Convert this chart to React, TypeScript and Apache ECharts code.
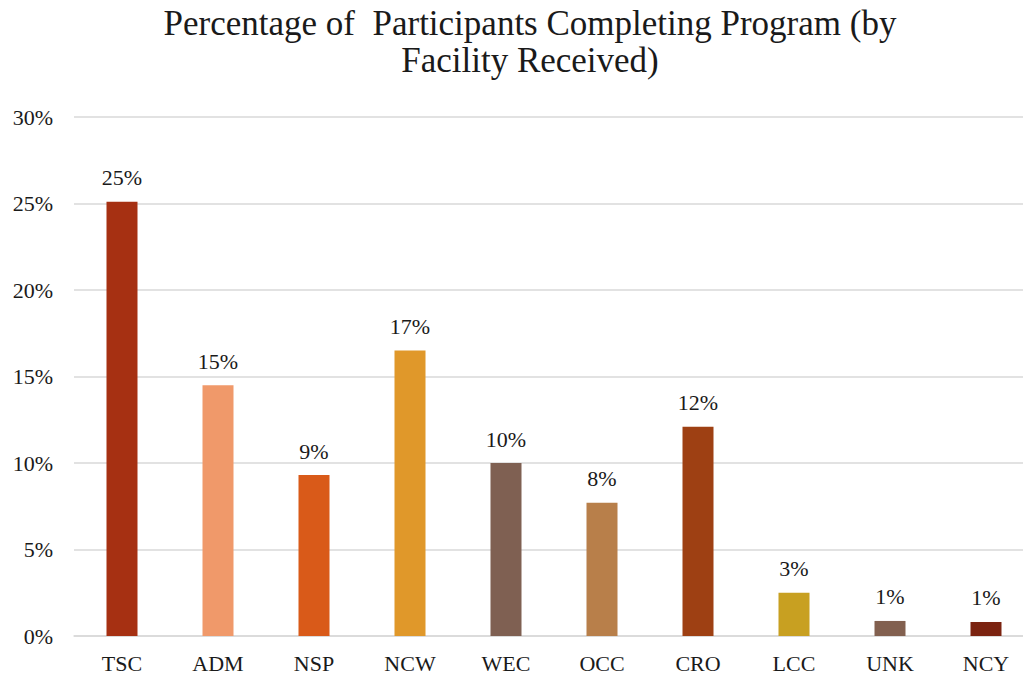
import React, { useEffect, useRef } from "react";
import * as echarts from "echarts";

const categories = ["TSC", "ADM", "NSP", "NCW", "WEC", "OCC", "CRO", "LCC", "UNK", "NCY"];
const values = [25.1, 14.5, 9.3, 16.5, 10.0, 7.7, 12.1, 2.5, 0.87, 0.81];
const barColors = ["#A63012", "#F0996A", "#D95A19", "#E0982A", "#7F6052", "#B87F4A", "#9E4013", "#C8A021", "#82604F", "#7B2310"];
const titleText = "Percentage of  Participants Completing Program (by\nFacility Received)";

const FONT = "'Liberation Serif', 'DejaVu Serif', serif";

export default function App() {
  const ref = useRef<HTMLDivElement>(null);
  useEffect(() => {
    if (!ref.current) return;
    const chart = echarts.init(ref.current, null, { renderer: "svg" });
    chart.setOption({
      animation: false,
      backgroundColor: "#ffffff",
      title: {
        text: titleText,
        left: "center",
        top: 0,
        textStyle: { fontFamily: FONT, fontSize: 35, fontWeight: "normal", color: "#1a1a1a", lineHeight: 37 },
      },
      grid: { left: 74, right: 26, top: 117, bottom: 43, containLabel: false },
      xAxis: {
        type: "category",
        data: categories,
        axisLine: { show: true, lineStyle: { color: "#d9d9d9", width: 1.5 } },
        axisTick: { show: false },
        axisLabel: { fontFamily: FONT, fontSize: 22, color: "#1a1a1a", margin: 16 },
      },
      yAxis: {
        type: "value",
        min: 0,
        max: 30,
        interval: 5,
        axisLine: { show: false },
        axisTick: { show: false },
        splitLine: { lineStyle: { color: "#d9d9d9", width: 1.5 } },
        axisLabel: { fontFamily: FONT, fontSize: 22, color: "#1a1a1a", margin: 21, formatter: (v: number) => v + "%" },
      },
      series: [
        {
          type: "bar",
          barWidth: 31,
          data: values.map((v, i) => ({ value: v, itemStyle: { color: barColors[i] } })),
          label: {
            show: true,
            position: "top",
            distance: 13,
            fontFamily: FONT,
            fontSize: 22,
            color: "#1a1a1a",
            formatter: (p: any) => Math.round(p.value) + "%",
          },
        },
      ],
    });
    return () => chart.dispose();
  }, []);
  return <div ref={ref} style={{ position: "fixed", left: 0, top: 0, width: 1060, height: 679 }} />;
}
